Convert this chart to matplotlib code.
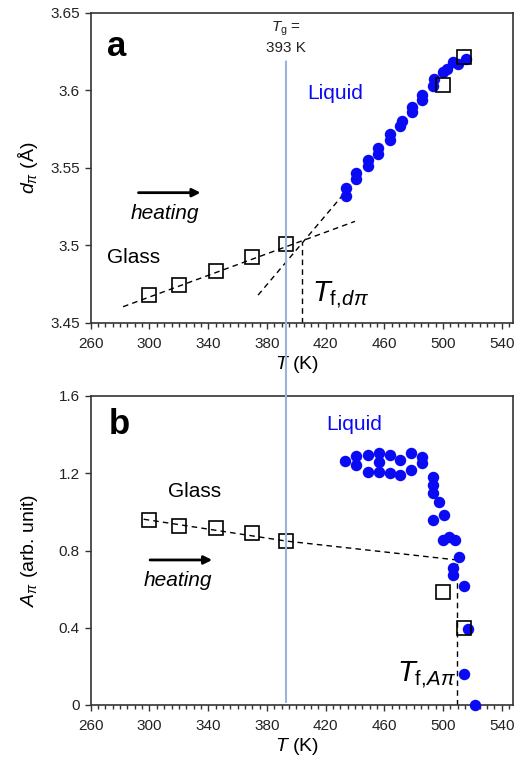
import matplotlib
matplotlib.use("Agg")
import matplotlib.pyplot as plt
from matplotlib.ticker import MultipleLocator, FixedLocator
from matplotlib.patches import ConnectionPatch

plt.rcParams['font.family'] = ['Liberation Sans', 'DejaVu Sans']
plt.rcParams['mathtext.fontset'] = 'custom'
plt.rcParams['mathtext.rm'] = 'Liberation Sans'
plt.rcParams['mathtext.it'] = 'Liberation Sans:italic'
plt.rcParams['mathtext.bf'] = 'Liberation Sans:bold'

# ---------------- data: panel a ----------------
T_glass_a = [300, 320, 345, 370, 393]
d_glass_a = [3.468, 3.4745, 3.4837, 3.4924, 3.5008]
T_sq_liq_a = [500, 514]
d_sq_liq_a = [3.6035, 3.6214]
T_liq_a = [434, 434, 441, 441, 449, 449, 456, 456, 464, 464, 471, 472, 479, 479,
           486, 486, 493, 494, 500, 503, 507, 510, 516]
d_liq_a = [3.532, 3.537, 3.543, 3.547, 3.551, 3.555, 3.559, 3.563, 3.568, 3.572,
           3.577, 3.580, 3.586, 3.589, 3.594, 3.597, 3.603, 3.607, 3.612, 3.614,
           3.618, 3.617, 3.620]
# fit lines (a)
T_fitglass_a = [282, 440]
d_fitglass_a = [3.4605, 3.5155]
T_fitliq_a = [374, 434]
d_fitliq_a = [3.468, 3.535]
T_f_a = 404
d_f_a = 3.502

# ---------------- data: panel b ----------------
T_glass_b = [300, 320, 345, 370, 393]
A_glass_b = [0.958, 0.929, 0.915, 0.889, 0.849]
T_sq_liq_b = [500, 514]
A_sq_liq_b = [0.583, 0.397]
T_liq_b = [433, 441, 441, 449, 449, 456.5, 456.5, 456.5, 464, 464, 471, 471,
           478.5, 478.5, 485.5, 485.5, 493, 493, 493, 497, 493, 500.5, 500,
           504, 508, 511, 507, 507, 514, 517, 514, 521.5]
A_liq_b = [1.265, 1.289, 1.243, 1.295, 1.208, 1.303, 1.26, 1.208, 1.295, 1.20,
           1.269, 1.191, 1.307, 1.217, 1.286, 1.252, 1.182, 1.139, 1.096, 1.053,
           0.958, 0.984, 0.854, 0.872, 0.854, 0.768, 0.708, 0.673, 0.616, 0.394,
           0.159, 0.0]
# fit lines (b)
T_fit_b = [296, 393, 509.5]
A_fit_b = [0.962, 0.849, 0.751]
T_f_b = 509.5
A_f_b_top = 0.78

Tg = 393
x_ticks = [260, 300, 340, 380, 420, 460, 500, 540]
y_ticks_a = [3.45, 3.5, 3.55, 3.6, 3.65]
y_ticks_b = [0, 0.4, 0.8, 1.2, 1.6]

BLUE = '#0a0af5'
TGCOL = '#9ab3dd'
SPINE = '#333333'

fig = plt.figure(figsize=(5.17, 7.65), dpi=100)
W, H = 517, 765
left, right = 90.8 / W, 512.7 / W
ax1 = fig.add_axes([left, 1 - 323 / H, right - left, (323 - 12.7) / H])
ax2 = fig.add_axes([left, 1 - 705 / H, right - left, (705 - 396) / H])

for ax in (ax1, ax2):
    ax.set_xlim(260, 547.5)
    ax.xaxis.set_major_locator(FixedLocator(x_ticks))
    ax.xaxis.set_minor_locator(MultipleLocator(5))
    ax.tick_params(axis='both', which='major', direction='out', length=4,
                   width=1.0, color=SPINE, labelsize=11, labelcolor='#222222', pad=4)
    ax.tick_params(axis='x', which='major', pad=6)
    ax.tick_params(axis='x', which='minor', direction='out', length=3,
                   width=1.0, color=SPINE)
    ax.tick_params(top=False, right=False)
    for s in ax.spines.values():
        s.set_color(SPINE)
        s.set_linewidth(1.2)
    ax.set_xlabel(r'$T$ (K)', fontsize=14, labelpad=4)
    ax.xaxis.set_label_coords(0.488, -0.1)
    ax.xaxis.label.set_va('top')

# ---------- panel a ----------
ax1.set_ylim(3.45, 3.65)
ax1.yaxis.set_major_locator(FixedLocator(y_ticks_a))
ax1.set_yticklabels(['3.45', '3.5', '3.55', '3.6', '3.65'])
ax1.set_ylabel(r'$d_{\pi}$ ($\mathrm{\AA}$)', fontsize=14)
ax1.yaxis.set_label_coords(-0.12, 0.5)

dash = dict(color='black', lw=1.0, ls=(0, (4, 3)))
ax1.plot(T_fitglass_a, d_fitglass_a, **dash, zorder=2)
ax1.plot(T_fitliq_a, d_fitliq_a, **dash, zorder=2)
ax1.plot([T_f_a, T_f_a], [3.45, d_f_a], **dash, zorder=2)
ax1.scatter(T_liq_a, d_liq_a, s=68, color=BLUE, zorder=3, linewidths=0)
ax1.plot(T_glass_a + T_sq_liq_a, d_glass_a + d_sq_liq_a, ls='none', marker='s',
         ms=10, mfc='none', mec='black', mew=1.2, zorder=4)

ax1.text(271, 3.628, 'a', fontsize=25, fontweight='bold', va='center', ha='left')
ax1.text(Tg, 3.6395, r'$T_{\mathrm{g}}$ =', fontsize=11, ha='center', va='center', color='#222222')
ax1.text(Tg, 3.6272, '393 K', fontsize=11, ha='center', va='center', color='#222222')
ax1.text(407.5, 3.598, 'Liquid', fontsize=15, color=BLUE, ha='left', va='center')
ax1.text(271.2, 3.4924, 'Glass', fontsize=15, ha='left', va='center')
ax1.text(287.5, 3.5208, 'heating', fontsize=15, style='italic', ha='left', va='center')
ax1.annotate('', xy=(336.7, 3.534), xytext=(290.6, 3.534),
             arrowprops=dict(arrowstyle='-|>', color='black', lw=2.0,
                             mutation_scale=12))
ax1.text(410.5, 3.4637, r'$T_{\mathrm{f},\!d\pi}$', fontsize=21, ha='left', va='baseline')

# ---------- panel b ----------
ax2.set_ylim(0, 1.6)
ax2.yaxis.set_major_locator(FixedLocator(y_ticks_b))
ax2.set_yticklabels(['0', '0.4', '0.8', '1.2', '1.6'])
ax2.set_ylabel(r'$A_{\pi}$ (arb. unit)', fontsize=14)
ax2.yaxis.set_label_coords(-0.12, 0.5)

ax2.plot(T_fit_b, A_fit_b, **dash, zorder=2)
ax2.plot([T_f_b, T_f_b], [0, A_f_b_top], **dash, zorder=2)
ax2.scatter(T_liq_b, A_liq_b, s=68, color=BLUE, zorder=3, linewidths=0, clip_on=False)
ax2.plot(T_glass_b + T_sq_liq_b, A_glass_b + A_sq_liq_b, ls='none', marker='s',
         ms=10, mfc='none', mec='black', mew=1.2, zorder=4)

ax2.text(272.5, 1.45, 'b', fontsize=25, fontweight='bold', va='center', ha='left')
ax2.text(420.7, 1.45, 'Liquid', fontsize=15, color=BLUE, ha='left', va='center')
ax2.text(330.5, 1.105, 'Glass', fontsize=15, ha='center', va='center')
ax2.text(319.6, 0.647, 'heating', fontsize=15, style='italic', ha='center', va='center')
ax2.annotate('', xy=(344.6, 0.751), xytext=(298.5, 0.751),
             arrowprops=dict(arrowstyle='-|>', color='black', lw=2.0,
                             mutation_scale=12))
ax2.text(468.4, 0.121, r'$T_{\mathrm{f},\!A\pi}$', fontsize=21, ha='left', va='baseline')

# Tg line spanning both panels
con = ConnectionPatch(xyA=(Tg, 3.6186), coordsA=ax1.transData,
                      xyB=(Tg, 0.015), coordsB=ax2.transData,
                      color=TGCOL, lw=1.5, zorder=1)
fig.add_artist(con)

fig.savefig('out.png', dpi=100)
